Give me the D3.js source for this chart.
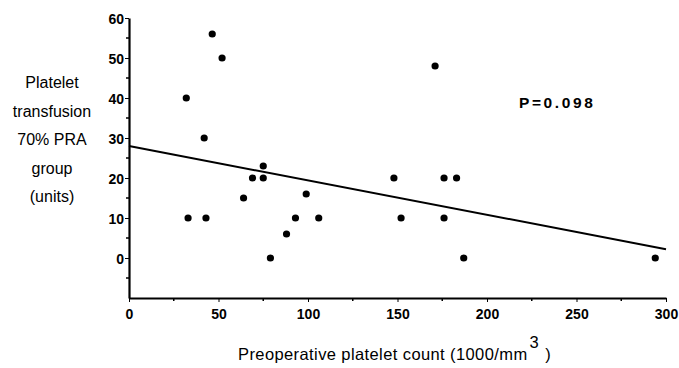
<!DOCTYPE html>
<html>
<head>
  <meta charset="utf8">
  <style type="text/css">
    body { margin: 0; background: #fff; font-family: Arial, "Liberation Sans", sans-serif; }
    .axis path, .axis line { stroke: #000; }
    .axis path { stroke-width: 2.2; }
    .axis text { font-size: 14px; font-weight: bold; fill: #000; font-family: Arial, "Liberation Sans", sans-serif; }
  </style>
</head>
<body>
<script src="https://d3js.org/d3.v7.min.js"></script>
<script type="text/javascript">
var width = 679, height = 368;

// preoperative platelet count (1000/mm3)
var plateletCount = [46.5, 52, 32, 42, 75, 69, 75, 64, 33, 43, 99, 93, 88, 79, 106, 148, 176, 183, 152, 176, 187, 294, 171];
// platelet transfusion, 70% PRA group (units)
var transfusionUnits = [56, 50, 40, 30, 23, 20, 20, 15, 10, 10, 16, 10, 6, 0, 10, 20, 20, 20, 10, 10, 0, 0, 48];

var xTicks = [0, 50, 100, 150, 200, 250, 300];
var xMinorTicks = [25, 75, 125, 175, 225, 275];
var yTicks = [0, 10, 20, 30, 40, 50, 60];
var yMinorTicks = [-5, 5, 15, 25, 35, 45, 55];

// fitted line, ends in data units
var fitX = [0, 300];
var fitY = [28, 2.2];

var yLabelLines = ['Platelet', 'transfusion', '70% PRA', 'group', '(units)'];
var pLabel = 'P=0.098';

var svg = d3.select('body').append('svg')
    .attr('width', width)
    .attr('height', height);

var x = d3.scaleLinear().domain([0, 300]).range([129, 666]);
var y = d3.scaleLinear().domain([-10, 60]).range([298, 18]);

// y axis
var yAxis = svg.append('g')
    .attr('class', 'axis')
    .attr('transform', 'translate(' + x(0) + ',0)')
    .call(d3.axisLeft(y).tickValues(yTicks).tickSize(4).tickSizeOuter(0).tickPadding(1));
yAxis.selectAll('.tick text').attr('dy', '0.36em');

svg.append('g')
    .selectAll('line')
    .data(yMinorTicks)
    .join('line')
    .attr('x1', x(0) - 3).attr('x2', x(0))
    .attr('y1', function(d) { return y(d); })
    .attr('y2', function(d) { return y(d); })
    .attr('stroke', '#000').attr('stroke-width', 1.5);

// x axis
var xAxis = svg.append('g')
    .attr('class', 'axis')
    .attr('transform', 'translate(0,' + y(-10) + ')')
    .call(d3.axisBottom(x).tickValues(xTicks).tickSize(4).tickSizeOuter(0).tickPadding(7));

svg.append('g')
    .selectAll('line')
    .data(xMinorTicks)
    .join('line')
    .attr('x1', function(d) { return x(d); })
    .attr('x2', function(d) { return x(d); })
    .attr('y1', y(-10)).attr('y2', y(-10) + 3)
    .attr('stroke', '#000').attr('stroke-width', 1.5);

// fit line
var line = d3.line()
    .x(function(d) { return x(d[0]); })
    .y(function(d) { return y(d[1]); });

svg.append('path')
    .datum(d3.zip(fitX, fitY))
    .attr('d', line)
    .attr('fill', 'none')
    .attr('stroke', '#000')
    .attr('stroke-width', 2);

// points
svg.append('g')
    .selectAll('circle')
    .data(d3.zip(plateletCount, transfusionUnits))
    .join('circle')
    .attr('cx', function(d) { return x(d[0]); })
    .attr('cy', function(d) { return y(d[1]); })
    .attr('r', 3.6)
    .attr('fill', '#000');

// P value
svg.append('text')
    .attr('x', 519).attr('y', 108)
    .attr('font-size', 15.5).attr('font-weight', 'bold')
    .attr('letter-spacing', 2.6)
    .text(pLabel);

// y label
svg.append('g')
    .selectAll('text')
    .data(yLabelLines)
    .join('text')
    .attr('x', 52)
    .attr('y', function(d, i) { return 88 + i * 28.5; })
    .attr('text-anchor', 'middle')
    .attr('font-size', 16)
    .text(function(d) { return d; });

// x label
var xl = svg.append('text')
    .attr('x', 238).attr('y', 360)
    .attr('font-size', 16.5)
    .attr('letter-spacing', 0.4);
xl.append('tspan').text('Preoperative platelet count (1000/mm');
xl.append('tspan').attr('dy', -12).attr('dx', 2).text('3');
xl.append('tspan').attr('dy', 12).attr('dx', 6).text(')');
</script>
</body>
</html>
